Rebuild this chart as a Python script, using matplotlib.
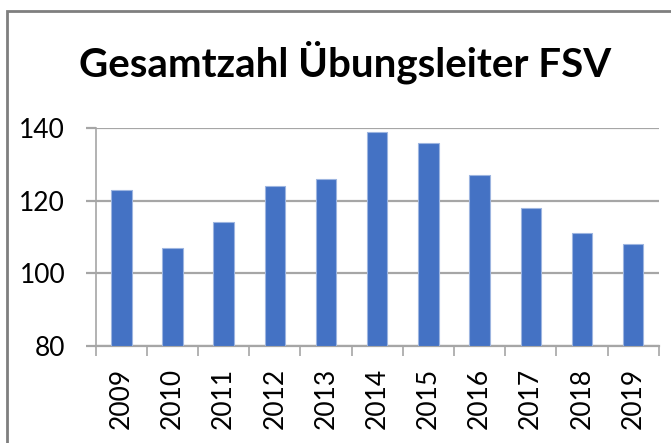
import matplotlib
matplotlib.use("Agg")
import matplotlib.pyplot as plt
from matplotlib.patches import Rectangle
import numpy as np

years = ["2009", "2010", "2011", "2012", "2013", "2014", "2015", "2016", "2017", "2018", "2019"]
counts = [123, 107, 114, 124, 126, 139, 136, 127, 118, 111, 108]
yticks = [80, 100, 120, 140]
title = "Gesamtzahl Übungsleiter FSV"

plt.rcParams["font.family"] = ["Lato", "DejaVu Sans"]

W, H = 671, 443
fig = plt.figure(figsize=(W / 100, H / 100), dpi=100)
ax = fig.add_axes([95.7 / W, 1 - 346 / H, (658.7 - 95.7) / W, (346 - 128) / H])

x = np.arange(len(years))
ax.bar(x, [c - 80 for c in counts], bottom=80, width=0.4, color="#4472C4",
       edgecolor="#9DB5E0", linewidth=0.8, zorder=3)

ax.set_xlim(-0.5, len(years) - 0.5)
ax.set_ylim(80, 140)
ax.set_yticks(yticks)
ax.set_yticklabels([str(v) for v in yticks])
ax.yaxis.grid(True, color="#A6A6A6", linewidth=1.6, zorder=0)

ax.set_xticks(x)
ax.set_xticklabels(years, rotation=90)
ax.set_xticks(np.arange(len(years) + 1) - 0.5, minor=True)
ax.tick_params(axis="x", which="major", length=0, pad=16, labelsize=19)
ax.tick_params(axis="x", which="minor", length=7, width=1.2, color="#A6A6A6")
ax.tick_params(axis="y", length=7, width=1.6, color="#A6A6A6", pad=15, labelsize=19)

for s in ["top", "right"]:
    ax.spines[s].set_visible(False)
ax.spines["left"].set_color("#A6A6A6")
ax.spines["left"].set_linewidth(1.2)
ax.spines["bottom"].set_color("#A6A6A6")
ax.spines["bottom"].set_linewidth(1.6)

fig.text(345 / W, 1 - 76 / H, title, ha="center", va="baseline",
         fontsize=29, fontweight="bold")

fig.patches.append(Rectangle((7 / W, -0.1), 2, 1.1 - 11 / H, transform=fig.transFigure,
                             fill=False, edgecolor="#7F7F7F", linewidth=2))

fig.savefig("out.png", dpi=100)
